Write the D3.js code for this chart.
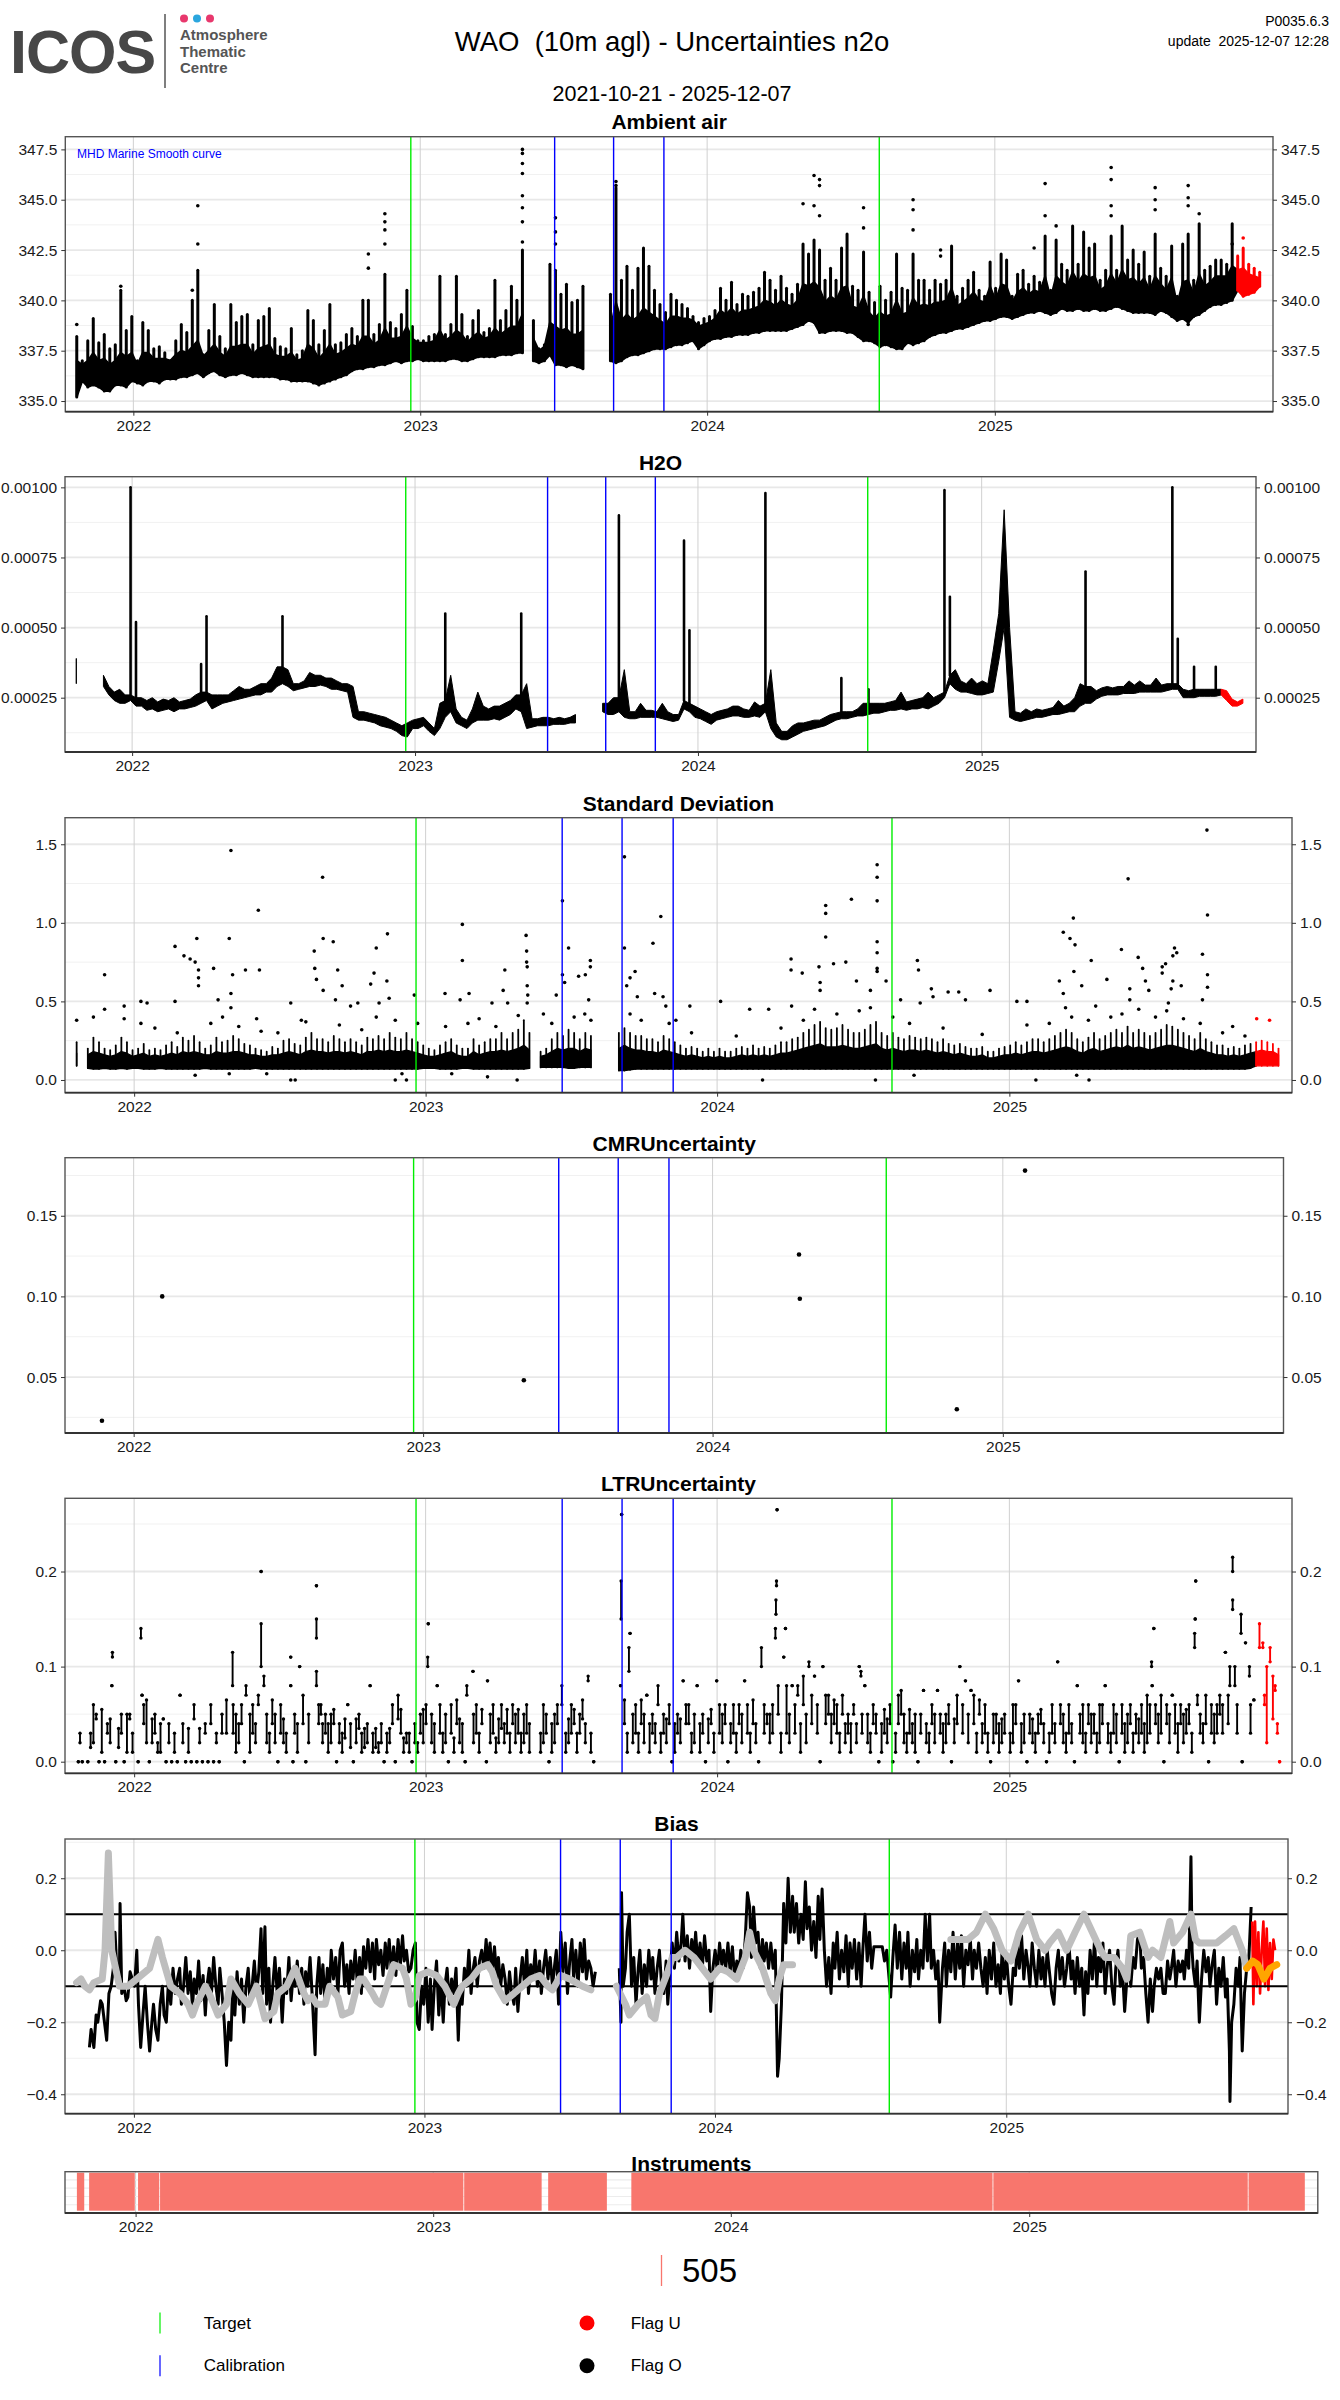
<!DOCTYPE html>
<html>
<head>
<meta charset="utf-8">
<script src="https://cdn.jsdelivr.net/npm/d3@7"></script>
<style>
  body { margin: 0; background: #fff; }
  svg { display: block; }
  text { font-family: "Liberation Sans", Arial, sans-serif; }
</style>
</head>
<body>
<div id="chart"></div>
<script>
// ---- dates shared by all panels ----
const firstDay = "2021-10-21";          // week 0 of the weekly series
const flagUStart = "2025-11-06";        // from here on values are flag U (red)
const xLimits = ["2021-10-06 10:00", "2025-12-20 22:00"];
const yearTicks = ["2022-01-01", "2023-01-01", "2024-01-01", "2025-01-01"];
const targetDates = ["2022-12-20", "2024-08-07"];
const calibrationDates = ["2023-06-21", "2023-09-04", "2023-11-07"];

// ---- Ambient air (weekly low / dense top / highest streak, n2o ppb) ----
const ambTicks = [335, 337.5, 340, 342.5, 345, 347.5];
const ambLo = [
  335.2,336.0,335.7,335.8,335.7,335.5,335.5,335.8,335.8,335.7,
  336.0,335.9,335.8,336.0,336.0,335.9,336.1,336.1,336.1,336.2,
  336.2,336.3,336.4,336.2,336.4,336.5,336.3,336.2,336.3,336.3,
  336.4,336.3,336.2,336.2,336.2,336.2,336.2,336.1,336.1,336.0,
  336.0,336.0,336.0,335.9,335.8,335.9,336.0,336.1,336.2,336.3,
  336.5,336.6,336.6,336.7,336.7,336.8,336.8,336.9,337.0,336.9,
  337.0,337.0,337.1,337.0,337.0,337.0,337.0,337.0,337.1,337.1,
  337.0,337.0,337.1,337.2,337.2,337.2,337.2,337.3,337.3,337.3,
  337.4,337.4,null,337.0,336.9,337.0,337.3,336.8,336.8,336.7,
  336.8,336.7,336.6,null,null,null,null,337.0,336.9,337.0,
  337.2,337.3,337.3,337.4,337.5,337.6,337.6,337.6,337.7,337.8,
  337.8,337.9,338.0,337.6,337.8,338.0,338.1,338.1,338.2,338.2,
  338.3,338.3,338.3,338.4,338.4,338.5,338.5,338.5,338.5,338.5,
  338.6,338.7,338.8,339.0,338.9,338.4,338.4,338.5,338.5,338.5,
  338.4,338.4,338.2,338.0,338.0,337.9,337.7,337.8,337.7,337.6,
  337.6,337.9,337.8,337.9,338.0,338.2,338.3,338.4,338.4,338.5,
  338.6,338.6,338.7,338.8,338.9,339.0,339.0,339.1,339.2,339.2,
  339.1,339.2,339.3,339.4,339.4,339.5,339.4,339.3,339.4,339.6,
  339.5,339.5,339.6,339.5,339.5,339.6,339.5,339.5,339.6,339.7,
  339.6,339.5,339.4,339.4,339.4,339.4,339.3,339.5,339.4,339.2,
  339.0,339.1,338.9,339.2,339.3,339.5,339.7,339.8,339.8,339.9,
  340.0,340.5,340.2,340.3,340.4,340.7
];
const ambCore = [
  337.0,336.8,337.0,337.4,337.0,337.1,336.8,337.0,337.4,337.2,
  337.4,336.8,337.4,337.4,337.1,337.1,337.1,337.0,337.3,337.5,
  337.4,337.7,338.0,337.2,337.5,337.8,337.4,337.2,337.7,337.7,
  337.8,337.8,337.3,337.6,337.7,337.8,337.3,337.2,337.2,337.4,
  337.0,337.1,337.8,337.6,337.1,337.4,337.8,337.3,337.4,337.6,
  337.8,337.7,338.2,338.2,337.8,338.0,338.6,338.1,338.1,338.2,
  338.7,338.1,337.9,337.9,337.9,338.0,338.5,338.0,338.2,338.5,
  338.3,337.9,338.2,338.4,338.1,338.2,338.6,338.3,338.5,338.7,
  338.7,339.3,null,338.1,337.5,337.7,338.9,338.7,338.5,338.6,
  338.3,338.3,338.5,null,null,null,null,338.6,339.9,339.0,
  339.3,339.0,339.2,339.6,339.4,339.2,339.0,338.8,339.2,339.2,
  339.1,339.1,339.0,338.7,338.8,338.9,339.1,339.5,339.3,339.6,
  339.3,339.5,339.5,339.6,339.7,340.0,339.9,339.7,340.0,339.8,
  339.7,340.0,340.8,340.7,340.9,340.6,339.9,340.2,340.0,340.6,
  340.7,339.7,339.6,340.2,339.4,339.1,339.4,339.2,339.3,340.0,
  339.3,339.4,340.1,339.7,339.8,339.7,339.9,339.9,340.0,340.6,
  339.7,339.9,340.1,340.4,340.0,339.9,340.7,340.0,340.8,340.7,
  339.9,340.4,340.6,340.3,340.5,340.4,341.2,340.1,341.2,340.9,
  340.7,341.4,340.9,341.3,341.1,341.2,340.5,340.7,341.3,340.8,
  341.5,341.0,341.1,340.8,341.1,340.5,341.2,340.8,340.5,341.1,
  339.8,340.9,341.0,340.3,341.3,340.7,340.9,341.2,341.2,341.2,
  341.7,341.5,341.6,341.3,341.2,341.1
];
const ambHi = [
  338.2,337.0,338.0,339.1,337.9,338.3,337.6,337.8,340.5,338.5,
  339.2,337.0,338.9,338.5,337.6,337.7,337.4,337.0,338.0,338.8,
  338.4,340.0,341.5,337.3,338.5,339.8,338.2,337.6,339.8,338.9,
  339.2,339.3,337.8,339.0,339.2,339.6,338.1,337.7,337.6,338.6,
  337.3,337.5,339.5,339.0,337.8,338.5,339.8,337.8,337.9,338.3,
  338.6,338.2,340.0,340.0,338.3,338.8,341.3,338.9,338.6,339.3,
  340.5,338.7,338.0,338.0,338.2,338.3,341.2,338.3,338.8,341.2,
  339.3,338.2,339.0,339.5,338.4,338.6,341.0,339.0,339.5,340.7,
  340.0,342.5,null,339.0,337.6,337.8,341.8,341.5,340.3,340.8,
  339.9,340.0,340.7,null,null,null,null,340.3,345.6,341.0,
  341.7,340.5,341.6,342.6,341.7,340.5,339.8,339.4,340.3,340.0,
  339.8,339.6,339.2,338.9,339.1,339.2,339.5,340.6,340.0,340.9,
  339.8,340.3,340.2,340.4,340.6,341.4,341.0,340.5,341.2,340.6,
  340.3,340.8,342.8,342.3,343.0,342.5,341.0,341.6,341.0,342.6,
  343.3,340.7,340.5,342.4,340.4,339.9,340.7,340.0,340.4,342.3,
  340.6,340.5,342.3,341.0,341.0,340.5,341.0,340.8,341.0,342.7,
  340.2,340.6,341.0,341.4,340.5,340.2,341.9,340.6,342.3,342.0,
  340.2,341.3,341.5,340.8,341.2,340.9,343.2,340.5,343.0,341.8,
  341.5,343.7,341.8,343.4,342.6,342.8,341.0,341.5,343.2,341.5,
  343.7,342.0,342.5,341.8,342.4,341.2,343.3,341.6,341.2,342.7,
  340.2,342.8,343.3,341.0,343.8,341.5,341.7,342.0,342.0,341.8,
  343.8,342.2,342.6,341.8,341.6,341.4
];
// isolated points above the cloud: [week, value]
const ambSpikes = [
  [0,338.8],[8,340.7],[21,340.5],[22,342.8],[22,344.7],[53,341.6],[53,342.3],
  [56,342.8],[56,343.5],[56,343.9],[56,344.3],[81,342.9],[81,343.9],[81,344.6],
  [81,345.2],[81,346.3],[81,346.8],[81,347.3],[81,347.5],[87,342.8],[87,343.4],
  [87,344.1],[98,345.7],[98,345.9],[132,344.8],[134,344.7],[134,346.2],[135,344.2],
  [135,345.7],[135,346.0],[143,343.6],[143,344.6],[152,343.5],[152,344.5],[152,345.0],
  [157,342.2],[157,342.5],[174,342.6],[176,344.2],[176,345.8],[178,343.7],[188,344.2],
  [188,344.7],[188,346.0],[188,346.6],[196,344.5],[196,345.0],[196,345.6],[202,338.8],
  [202,344.7],[202,345.1],[202,345.7],[204,344.3],[210,342.8],[212,343.1]
];

// ---- H2O (weekly low / high, in units of 1e-4) ----
const h2oTicks = [2.5, 5, 7.5, 10];
const h2oLo = [
  3.0,null,null,null,null,2.9,2.6,2.4,2.3,2.3,
  2.4,2.2,2.2,2.05,2.1,2.0,2.05,2.1,2.0,2.1,
  2.1,2.15,2.2,2.3,2.4,2.1,2.2,2.3,2.35,2.4,
  2.45,2.5,2.55,2.6,2.6,2.7,2.7,2.9,3.0,2.9,
  2.75,2.8,2.85,2.9,2.9,2.95,2.9,2.8,2.8,2.75,
  2.7,1.8,1.7,1.7,1.65,1.6,1.5,1.45,1.4,1.3,
  1.15,1.1,1.4,1.4,1.5,1.3,1.15,1.4,1.8,2.0,
  1.6,1.5,1.4,1.6,1.7,1.7,1.7,1.75,1.7,1.8,
  1.9,2.1,2.0,1.4,1.45,1.5,1.5,1.5,1.55,1.55,
  1.55,1.6,1.6,null,null,null,null,2.0,1.9,1.9,
  2.0,1.8,1.75,1.75,1.8,1.8,1.8,1.8,1.75,1.7,
  1.65,1.7,2.1,2.0,1.8,1.75,1.65,1.55,1.7,1.75,
  1.8,1.85,1.85,1.8,1.8,1.85,1.8,2.0,1.4,1.1,
  1.0,1.0,1.1,1.2,1.3,1.35,1.4,1.45,1.5,1.6,
  1.7,1.75,1.75,1.8,1.85,1.85,1.9,1.95,1.95,2.0,
  2.05,2.05,2.1,2.05,2.1,2.1,2.15,2.1,2.2,2.3,
  2.5,3.0,2.8,2.7,2.7,2.65,2.6,2.6,2.65,2.7,
  3.8,5.0,1.8,1.7,1.65,1.7,1.75,1.8,1.8,1.85,
  1.9,1.9,1.95,2.0,2.0,2.2,2.3,2.3,2.45,2.55,
  2.6,2.6,2.6,2.65,2.65,2.65,2.7,2.7,2.7,2.7,
  2.7,2.75,2.8,2.8,2.5,2.5,2.5,2.55,2.55,2.55,
  2.55,2.6,2.4,2.2,2.2,2.3
];
const h2oHi = [
  3.9,null,null,null,null,3.3,2.9,2.7,2.8,2.6,
  2.6,2.5,2.5,2.4,2.5,2.35,2.45,2.4,2.5,2.35,
  2.4,2.45,2.6,2.7,2.7,2.6,2.6,2.6,2.6,2.75,
  2.9,2.8,2.8,2.9,3.0,3.0,3.2,3.6,3.6,3.5,
  3.0,3.0,3.1,3.4,3.3,3.3,3.2,3.2,3.1,3.0,
  3.0,2.9,2.0,2.0,1.95,1.9,1.85,1.8,1.7,1.6,
  1.5,1.6,1.7,1.75,1.8,1.6,1.4,2.3,2.4,3.3,
  2.1,1.8,1.7,2.1,2.7,2.2,2.1,2.2,2.2,2.3,
  2.4,2.6,2.6,3.0,1.75,1.75,1.8,1.8,1.75,1.8,
  1.75,1.8,1.9,null,null,null,null,2.3,2.3,2.5,
  2.5,3.5,2.0,2.0,2.3,2.05,2.05,2.0,2.3,2.0,
  1.9,1.9,2.4,2.3,2.2,2.1,2.0,1.9,2.0,2.05,
  2.1,2.2,2.2,2.1,2.05,2.35,2.2,2.3,3.5,1.6,
  1.3,1.3,1.5,1.6,1.6,1.65,1.7,1.7,1.8,1.9,
  1.95,2.0,2.0,2.0,2.1,2.3,2.3,2.3,2.3,2.3,
  2.35,2.4,2.7,2.35,2.4,2.45,2.5,2.7,2.5,2.6,
  2.7,3.3,3.5,3.1,3.0,3.2,3.0,3.1,3.0,4.2,
  5.5,9.2,5.0,2.0,1.95,2.1,2.0,2.1,2.05,2.1,
  2.15,2.4,2.2,2.3,2.5,3.0,2.9,2.9,2.75,2.85,
  2.9,2.85,2.9,2.9,3.1,2.95,3.1,2.95,2.95,3.2,
  2.95,3.0,3.0,3.0,2.8,2.75,2.8,2.8,2.8,2.8,
  2.8,2.8,2.75,2.45,2.35,2.45
];
// short humid episodes: [week, from, to]
const h2oSpikes = [
  [10,2.6,10.0],[11,2.5,5.2],[23,2.7,3.7],[24,2.7,5.4],[38,3.6,5.4],[68,2.4,5.5],[82,2.6,5.5],
  [100,2.5,9.0],[112,2.4,8.1],[113,2.3,4.9],[127,2.3,9.8],[141,2.0,3.2],[146,2.3,2.8],
  [160,2.7,9.9],[161,3.3,6.1],[186,2.9,7.0],[202,3.0,10.0],[203,3.0,4.6],[206,2.8,3.6],[210,2.8,3.6]
];

// ---- Standard deviation (weekly low / dense top / highest streak) ----
const sdTicks = [0, 0.5, 1.0, 1.5];
const sdLo = [
  0.09,null,0.075,0.07,0.07,0.075,0.07,0.07,0.075,0.07,
  0.075,0.075,0.07,0.07,0.07,0.075,0.07,0.07,0.07,0.07,
  0.07,0.07,0.07,0.075,0.07,0.07,0.07,0.07,0.07,0.07,
  0.07,0.07,0.075,0.07,0.07,0.07,0.07,0.07,0.07,0.07,
  0.07,0.07,0.07,0.07,0.07,0.07,0.07,0.07,0.07,0.07,
  0.07,0.07,0.07,0.07,0.07,0.07,0.07,0.07,0.07,0.07,
  0.07,0.07,0.075,0.075,0.075,0.07,0.07,0.07,0.07,0.075,
  0.075,0.07,0.07,0.07,0.07,0.07,0.07,0.07,0.07,0.07,
  0.07,0.075,null,0.08,0.08,0.08,0.08,0.08,0.075,0.075,
  0.08,0.08,0.08,null,null,null,null,0.06,0.06,0.065,
  0.07,0.07,0.07,0.07,0.07,0.07,0.07,0.07,0.07,0.07,
  0.07,0.07,0.07,0.07,0.07,0.07,0.07,0.07,0.07,0.07,
  0.07,0.07,0.07,0.07,0.07,0.07,0.07,0.07,0.07,0.07,
  0.07,0.07,0.07,0.07,0.07,0.07,0.07,0.07,0.07,0.07,
  0.07,0.07,0.07,0.07,0.07,0.07,0.07,0.07,0.07,0.07,
  0.07,0.07,0.07,0.07,0.07,0.07,0.07,0.07,0.07,0.07,
  0.07,0.07,0.07,0.07,0.07,0.07,0.07,0.07,0.07,0.07,
  0.07,0.07,0.07,0.07,0.07,0.07,0.07,0.07,0.07,0.07,
  0.07,0.07,0.07,0.07,0.07,0.07,0.07,0.07,0.07,0.07,
  0.07,0.07,0.07,0.07,0.07,0.07,0.07,0.07,0.07,0.07,
  0.07,0.07,0.07,0.07,0.07,0.07,0.07,0.07,0.07,0.07,
  0.075,0.09,0.09,0.09,0.09,0.09
];
const sdCore = [
  0.17,null,0.16,0.18,0.17,0.16,0.15,0.16,0.18,0.17,
  0.15,0.16,0.17,0.15,0.16,0.15,0.16,0.17,0.16,0.18,
  0.17,0.18,0.17,0.16,0.16,0.18,0.17,0.17,0.18,0.18,
  0.17,0.16,0.16,0.15,0.15,0.16,0.16,0.17,0.18,0.17,
  0.16,0.18,0.19,0.18,0.18,0.17,0.18,0.18,0.17,0.18,
  0.17,0.16,0.18,0.18,0.19,0.18,0.19,0.18,0.18,0.19,
  0.18,0.17,0.16,0.15,0.15,0.16,0.17,0.18,0.16,0.15,
  0.15,0.18,0.16,0.17,0.18,0.18,0.19,0.18,0.19,0.2,
  0.22,0.19,null,0.15,0.16,0.18,0.2,0.19,0.2,0.2,
  0.18,0.2,0.19,null,null,null,null,0.2,0.22,0.2,
  0.19,0.19,0.18,0.18,0.17,0.19,0.18,0.17,0.16,0.15,
  0.16,0.15,0.14,0.15,0.14,0.15,0.14,0.14,0.15,0.16,
  0.15,0.16,0.15,0.16,0.15,0.16,0.17,0.17,0.18,0.19,
  0.2,0.21,0.22,0.23,0.21,0.21,0.21,0.22,0.21,0.2,
  0.2,0.21,0.22,0.23,0.2,0.19,0.2,0.19,0.18,0.19,
  0.19,0.18,0.19,0.18,0.17,0.18,0.17,0.16,0.17,0.16,
  0.15,0.15,0.16,0.14,0.14,0.15,0.16,0.16,0.17,0.16,
  0.17,0.18,0.18,0.17,0.18,0.19,0.2,0.21,0.2,0.18,
  0.17,0.19,0.2,0.18,0.19,0.2,0.21,0.2,0.22,0.2,
  0.21,0.2,0.19,0.2,0.21,0.22,0.22,0.21,0.2,0.19,
  0.18,0.2,0.18,0.17,0.16,0.16,0.15,0.16,0.15,0.16,
  0.17,0.18,0.19,0.18,0.18,0.16
];
const sdHi = [
  0.24,null,0.2,0.27,0.24,0.2,0.19,0.22,0.27,0.24,
  0.19,0.2,0.23,0.19,0.2,0.19,0.22,0.24,0.21,0.27,
  0.25,0.28,0.24,0.2,0.22,0.27,0.24,0.25,0.28,0.26,
  0.23,0.22,0.2,0.19,0.18,0.21,0.2,0.25,0.26,0.23,
  0.22,0.27,0.3,0.26,0.26,0.24,0.28,0.26,0.24,0.26,
  0.24,0.22,0.27,0.26,0.28,0.26,0.3,0.27,0.26,0.3,
  0.26,0.24,0.22,0.2,0.19,0.22,0.24,0.26,0.22,0.2,
  0.2,0.26,0.22,0.24,0.26,0.26,0.3,0.26,0.3,0.32,
  0.38,0.3,null,0.18,0.2,0.26,0.3,0.28,0.32,0.3,
  0.26,0.3,0.28,null,null,null,null,0.3,0.33,0.3,
  0.28,0.28,0.26,0.26,0.24,0.28,0.26,0.24,0.22,0.2,
  0.21,0.2,0.18,0.2,0.18,0.2,0.18,0.18,0.2,0.21,
  0.2,0.22,0.2,0.21,0.2,0.22,0.24,0.24,0.26,0.27,
  0.3,0.32,0.35,0.37,0.33,0.32,0.33,0.35,0.32,0.3,
  0.3,0.32,0.35,0.37,0.3,0.28,0.3,0.27,0.26,0.28,
  0.27,0.26,0.27,0.26,0.24,0.26,0.23,0.22,0.23,0.21,
  0.2,0.2,0.21,0.18,0.18,0.2,0.21,0.22,0.24,0.22,
  0.24,0.26,0.26,0.24,0.26,0.28,0.3,0.32,0.3,0.26,
  0.24,0.27,0.3,0.26,0.28,0.3,0.32,0.3,0.34,0.3,
  0.32,0.3,0.28,0.3,0.32,0.35,0.34,0.32,0.3,0.28,
  0.26,0.3,0.26,0.24,0.22,0.22,0.2,0.21,0.2,0.22,
  0.23,0.24,0.25,0.24,0.23,0.2
];
// scattered standard deviations outside the dense band: [week, value]
const sdPoints = [
  [0,0.38],[3,0.4],[5,0.45],[5,0.67],[8.5,0.47],[8.5,0.39],[11.5,0.5],[11.5,0.36],[12.6,0.49],
  [14,0.33],[17.6,0.85],[17.6,0.5],[18,0.3],[19.2,0.79],[20.3,0.77],[21.2,0.75],[21.2,0.03],
  [21.5,0.9],[21.8,0.7],[21.8,0.65],[21.8,0.6],[24,0.36],[24.5,0.71],[25.3,0.51],[26.1,0.4],
  [27.3,0.9],[27.3,0.04],[27.6,1.46],[27.6,0.55],[27.6,0.46],[27.9,0.67],[29,0.34],[30.2,0.7],
  [32.2,0.39],[32.5,1.08],[32.7,0.7],[33,0.31],[34,0.04],[36,0.3],[38.3,0.49],[38.3,0],[39.1,0],
  [40.2,0.38],[41,0.37],[42.5,0.82],[42.6,0.71],[42.9,0.64],[44,1.29],[44.1,0.9],[44.1,0.57],
  [45.9,0.88],[46.3,0.51],[46.7,0.7],[47,0.35],[47.5,0.6],[49,0.47],[50.3,0.49],[51,0.32],
  [52.6,0.61],[53.2,0.68],[53.6,0.84],[53.6,0.4],[54.1,0.49],[55.5,0.63],[55.6,0.93],[55.9,0.52],
  [57,0],[57,0.38],[58.2,0.04],[59,0],[60.4,0.54],[61,0.36],[65.9,0.55],[66,0.34],[67.1,0.04],
  [68.6,0.51],[69,0.99],[69,0.76],[70,0.36],[70.2,0.55],[72,0.39],[73.5,0.02],[74.3,0.49],
  [75,0.34],[76.3,0.57],[76.6,0.7],[77.1,0.49],[78.8,0],[79,0.41],[80.4,0.92],[80.5,0.82],
  [80.5,0.75],[80.6,0.72],[80.6,0.6],[80.7,0.54],[80.6,0.49],[83.5,0.42],[85,0.36],[85.8,0.54],
  [86.9,1.14],[86.9,0.67],[87.3,0.62],[88,0.84],[89,0.4],[89.8,0.66],[90.9,0.42],[91,0.67],
  [91.6,0.51],[91.9,0.76],[91.9,0.72],[92,0.38],[98,1.42],[98,0.84],[98.4,0.6],[99,0.65],
  [99,0.42],[99.9,0.69],[100.3,0.53],[101,0.38],[103.1,0.87],[103.4,0.55],[104.5,1.04],
  [104.9,0.53],[105.4,0.47],[106,0.36],[107.2,0.38],[109.7,0.47],[110,0.3],[115.2,0.5],
  [118,0.28],[120.4,0.45],[122.7,0],[123.8,0.45],[126,0.33],[127.8,0.77],[127.8,0.7],
  [127.9,0.47],[129.8,0.68],[130,0.38],[132,0.45],[132.8,0.72],[133,0.62],[133,0.57],
  [134,1.11],[134,1.06],[134,0.91],[135.4,0.74],[136,0.42],[137.6,0.75],[138.6,1.15],
  [139.5,0.63],[140,0.44],[142,0.57],[142,0.46],[142.9,0],[143.2,1.37],[143.2,1.29],
  [143.2,1.14],[143.2,0.88],[143.2,0.81],[143.2,0.71],[143.2,0.69],[144.8,0.63],[146,0.4],
  [147.4,0.51],[149,0.36],[149.8,0.03],[150.4,0.76],[150.6,0.7],[150.9,0.49],[152.9,0.58],
  [153.2,0.53],[155,0.33],[155.9,0.56],[157.8,0.56],[159,0.51],[162,0.29],[163.4,0.57],
  [168.2,0.5],[170,0.5],[170,0.35],[171.6,0],[174,0.36],[175.8,0.63],[176.5,0.94],[176.5,0.55],
  [176.9,0.46],[177.7,0.9],[178,0.4],[178.3,1.03],[178.4,0.69],[178.6,0.86],[178.9,0.03],
  [179.8,0.6],[181,0.38],[181.1,0],[181.5,0.76],[182.3,0.47],[184.3,0.64],[185,0.4],
  [186.9,0.83],[187,0.42],[188.1,1.28],[188.4,0.58],[188.4,0.51],[189.9,0.78],[190,0.45],
  [190.7,0.71],[191.2,0.63],[191.8,0.57],[193,0.4],[194.2,0.72],[194.2,0.68],[194.8,0.74],
  [195,0.44],[195.3,0.49],[195.8,0.58],[196.1,0.79],[196.1,0.63],[196.4,0.84],[196.8,0.81],
  [197.6,0.6],[198,0.39],[201,0.36],[201.4,0.8],[201.4,0.51],[202.2,1.59],[202.3,1.05],
  [202.3,0.67],[202.3,0.59],[205,0.3],[206.8,0.34],[209,0.28],[211.1,0.39],[213.4,0.38]
];

// ---- CMR uncertainty ----
const cmrTicks = [0.05, 0.10, 0.15];
const cmrDates = ["2021-11-22", "2022-02-06", "2023-05-08", "2024-04-19", "2024-04-20", "2024-11-04", "2025-01-29"];
const cmrValues = [0.0229, 0.100, 0.048, 0.126, 0.0985, 0.030, 0.178];

// ---- LTR uncertainty: short runs of consecutive values [week, low, high] ----
const ltrTicks = [0, 0.1, 0.2];
const ltrRuns = [
  [0.3,0,0],[0.6,0.02,0.03],[1,0,0],[2,0,0],[2.5,0.015,0.03],[3,0.02,0.06],[3.5,0.045,0.05],[4,0,0],
  [4.5,0.01,0.055],[5,0,0],[5.5,0.03,0.04],[6,0.02,0.045],[6.3,0.08,0.08],[6.4,0.11,0.115],[7,0,0],
  [7.5,0.015,0.035],[8,0.03,0.05],[8.5,0,0],[9,0.01,0.05],[9.5,0.045,0.05],[10,0.01,0.03],
  [11,0,0],[11.5,0.13,0.14],[11.7,0.07,0.07],[12,0.04,0.06],[12.5,0.02,0.065],[13,0,0],
  [13.5,0.02,0.045],[14,0.03,0.05],[14.5,0.01,0.02],[15,0.01,0.04],[15.5,0.045,0.045],[16,0,0],
  [16.5,0.02,0.04],[17,0,0],[17.5,0.01,0.03],[18,0,0],[18.5,0.07,0.07],[19,0.02,0.04],[19.5,0,0],
  [20,0.01,0.035],[20.5,0,0],[21,0.045,0.06],[21.5,0,0],[22,0.02,0.035],[22.5,0,0],[23,0.03,0.04],
  [23.5,0,0],[24,0.04,0.06],[24.5,0,0],[25,0.02,0.03],[25.5,0,0],[26,0.03,0.05],
  [26.8,0.03,0.065],[27.9,0.08,0.115],[28,0.03,0.06],[28.5,0.01,0.05],[29,0.02,0.04],[29.5,0.04,0.06],
  [30,0,0],[30.3,0.07,0.08],[31,0.01,0.05],[31.5,0.03,0.06],[32,0.02,0.04],[32.5,0.06,0.07],
  [33,0.1,0.145],[33,0.2,0.2],[33.5,0.08,0.09],[34,0.02,0.05],[34.5,0.01,0.03],[35,0.04,0.065],
  [35.5,0.02,0.05],[36,0,0],[36.5,0.03,0.06],[37,0.02,0.045],[37.5,0.01,0.03],[38.3,0.08,0.08],
  [38.3,0.11,0.11],[38.7,0,0],[39,0.03,0.05],[39.5,0.01,0.04],[39.9,0.1,0.1],[40.5,0.04,0.07],
  [41,0,0],[41.5,0.02,0.05],[42.9,0.08,0.095],[42.9,0.13,0.15],[42.9,0.185,0.185],[43.3,0.04,0.06],
  [43.7,0.05,0.06],[44,0.02,0.04],[44.5,0.03,0.05],[45,0.01,0.04],[45.5,0.02,0.05],[46,0.04,0.055],
  [46.5,0,0],[47,0.02,0.04],[47.5,0.01,0.03],[48,0.025,0.045],[48.5,0.06,0.06],[49,0.015,0.04],
  [49.5,0,0],[50,0.02,0.045],[50.5,0.035,0.05],[51,0.01,0.03],[51.5,0.015,0.035],[52,0.02,0.04],
  [52.5,0.08,0.08],[53,0.01,0.03],[53.5,0.015,0.035],[54,0.01,0.02],[54.5,0.02,0.04],[55,0,0],
  [55.5,0.01,0.03],[56,0.02,0.035],[56.5,0.04,0.06],[57,0,0],[57.5,0.045,0.07],[58,0.03,0.055],
  [58.5,0.01,0.025],[59,0.02,0.03],[59.5,0.01,0.03],[60,0,0],[60.5,0.02,0.04],[61,0.01,0.02],
  [61.5,0.03,0.05],[62,0.02,0.055],[62.5,0.04,0.06],[62.8,0.1,0.11],[62.9,0.145,0.145],
  [63.5,0.02,0.05],[64,0.01,0.04],[64.5,0.08,0.08],[65,0.03,0.06],[65.5,0.01,0.03],[66,0.02,0.05],
  [66.5,0,0],[67,0.03,0.06],[67.5,0.01,0.025],[68,0.04,0.065],[68.5,0.02,0.045],[69,0.01,0.04],
  [69.5,0,0],[69.8,0.07,0.08],[70.9,0.095,0.095],[71,0.02,0.05],[71.5,0.03,0.06],[72,0.01,0.03],
  [72.5,0.04,0.055],[73.5,0.085,0.085],[73.3,0,0],[74,0.02,0.05],[74.5,0.03,0.06],[75,0.01,0.025],
  [75.5,0.02,0.045],[76,0.035,0.06],[76.5,0.02,0.04],[77,0.03,0.055],[77.5,0.01,0.03],[78,0.04,0.06],
  [78.5,0.02,0.05],[79,0.03,0.055],[79.5,0.01,0.03],[80,0.02,0.05],[80.5,0.03,0.06],[81,0.01,0.04],
  [83,0.01,0.03],[83.5,0.02,0.06],[84,0.03,0.05],[84.5,0,0],[85,0.01,0.04],[85.5,0.02,0.05],
  [86,0.04,0.06],[86.8,0.06,0.08],[87.5,0.01,0.03],[88,0.02,0.045],[88.5,0.03,0.06],[89,0.04,0.055],
  [89.5,0.01,0.03],[90,0.03,0.05],[90.5,0.045,0.065],[91,0.02,0.04],[91.5,0.085,0.09],[92,0.01,0.03],
  [92.5,0,0],
  [97.3,0.08,0.08],[97.4,0.15,0.19],[97.5,0.26,0.26],[98,0.04,0.065],[98.5,0.01,0.03],[98.8,0.095,0.12],
  [99,0.135,0.135],[99.5,0.02,0.05],[100,0.03,0.06],[100.5,0.01,0.03],[101,0.04,0.065],[101.5,0.02,0.05],
  [102,0.07,0.07],[102.5,0.01,0.04],[103,0.03,0.05],[103.5,0.02,0.04],[104,0.06,0.08],[104.5,0.01,0.03],
  [105,0.03,0.05],[105.5,0.02,0.045],[106,0.04,0.06],[106.5,0,0],[107,0.01,0.04],[107.5,0.03,0.05],
  [108,0.02,0.045],[108.5,0.085,0.085],[109,0.04,0.06],[109.5,0.04,0.06],[110,0.01,0.03],
  [110.5,0.02,0.05],[111,0.08,0.08],[111.5,0.01,0.04],[112,0.03,0.05],[112.5,0,0],[113,0.02,0.045],
  [113.5,0.04,0.055],[114,0.01,0.03],[114.5,0.085,0.085],[115,0.03,0.06],[115.5,0.02,0.05],
  [116,0.04,0.06],[116.5,0,0],[117,0.02,0.04],[117.5,0.03,0.06],[118,0.01,0.03],[118.5,0.04,0.06],
  [119,0.02,0.05],[119.5,0.085,0.085],[120,0.03,0.06],[120.5,0.01,0.03],[121,0.04,0.065],
  [121.5,0.02,0.04],[122,0,0],[122.5,0.1,0.12],[123,0.03,0.06],[123.5,0.04,0.05],
  [124,0.02,0.05],[124.5,0.03,0.06],[125,0.13,0.14],[125.1,0.155,0.17],[125.2,0.185,0.19],
  [125.3,0.265,0.265],[125.5,0.05,0.08],[126,0.01,0.03],[126.5,0.11,0.11],[126.8,0.14,0.14],
  [127,0.03,0.08],[127.5,0.02,0.05],[128,0.08,0.08],[128.5,0.03,0.06],[129,0.07,0.08],[129.5,0.01,0.04],
  [130,0.06,0.09],[130.5,0.02,0.05],[131,0.1,0.105],[131.5,0.04,0.07],[132,0.09,0.09],[132.5,0.03,0.06],
  [133,0,0],[133.5,0.1,0.1],[134,0.04,0.07],[134.5,0.05,0.07],[135,0.02,0.05],[135.5,0.04,0.065],
  [136,0.03,0.06],[136.5,0.01,0.03],[137,0.05,0.07],[137.5,0.02,0.04],
  [138,0.03,0.05],[138.5,0.01,0.04],[139,0.05,0.06],[139.5,0.02,0.04],[140,0.1,0.1],[140.3,0.09,0.095],
  [140.5,0.03,0.05],[141,0.08,0.08],[141.5,0.02,0.05],[142,0.01,0.03],[142.5,0.04,0.06],[143,0.03,0.05],
  [143.5,0,0],[144,0.01,0.04],[144.5,0.03,0.055],[145,0.02,0.045],[145.5,0.04,0.06],[146,0,0],
  [146.5,0.01,0.03],[147,0.04,0.07],[147.5,0.05,0.075],[148,0.02,0.05],[148.5,0.01,0.03],
  [149,0.03,0.055],[149.5,0.02,0.04],[150,0.01,0.05],[150.5,0,0],[151,0.03,0.05],[151.5,0.075,0.075],
  [152,0.02,0.04],[152.5,0.01,0.03],[153,0.04,0.06],[153.5,0.02,0.05],[154,0.075,0.075],
  [154.5,0.03,0.05],[155,0.01,0.04],[155.5,0.02,0.05],[156,0.04,0.06],[156.5,0,0],[157,0.02,0.045],
  [157.5,0.04,0.07],[158,0.1,0.1],[158.5,0.03,0.06],[159,0.085,0.085],[159.5,0.02,0.05],
  [160,0.075,0.075],[160.5,0.04,0.07],[161,0.01,0.03],[161.5,0.05,0.065],[162,0.02,0.04],
  [162.5,0.03,0.06],[163,0.01,0.03],[163.5,0,0],[164,0.02,0.05],[164.5,0.03,0.05],[165,0.01,0.04],
  [165.5,0.02,0.045],[166,0.03,0.05],
  [167,0.01,0.03],[167.5,0.02,0.06],[168,0.04,0.06],[168.5,0.085,0.085],[169,0.01,0.04],
  [169.5,0.02,0.05],[170,0,0],[170.5,0.03,0.05],[171,0.02,0.045],[171.5,0.01,0.03],[172,0.03,0.05],
  [172.5,0.04,0.055],[173,0.02,0.04],[173.5,0,0],[174,0.01,0.03],[174.5,0.03,0.06],[175,0.02,0.04],
  [175.5,0.105,0.105],[176,0.04,0.06],[176.5,0.02,0.05],[177,0.01,0.03],[177.5,0.03,0.06],
  [178,0.02,0.04],[178.5,0,0],[179,0.08,0.08],[179.5,0.03,0.05],[180,0.02,0.06],[180.5,0.01,0.03],
  [181,0.04,0.06],[181.5,0.02,0.05],[182,0.03,0.05],[182.5,0.01,0.03],[183,0.02,0.06],
  [183.5,0.04,0.06],[184,0.08,0.08],[184.5,0.02,0.04],[185,0.01,0.03],[185.5,0.03,0.06],
  [186,0.02,0.05],[186.5,0,0],[187,0.03,0.06],[187.5,0.01,0.04],[188,0.02,0.05],[188.5,0.04,0.06],
  [189,0.01,0.03],[189.5,0.03,0.05],[190,0.02,0.045],[190.5,0.03,0.06],[191,0.01,0.04],
  [191.5,0.02,0.07],[192,0.03,0.06],[192.3,0.1,0.105],[192.4,0.08,0.08],[192.7,0.14,0.14],
  [193,0.04,0.06],[193.5,0.02,0.05],[194,0.03,0.07],[194.5,0,0],[195,0.04,0.06],[195.5,0.02,0.05],
  [196,0.07,0.07],[196.5,0.03,0.06],[197,0.01,0.04],[197.5,0.04,0.06],[198,0.02,0.05],
  [198.5,0.03,0.055],[199,0.04,0.06],[199.5,0.01,0.03],[200,0.12,0.135],[200.1,0.15,0.15],
  [200.2,0.19,0.19],[200.5,0.06,0.07],[201,0.03,0.05],[201.5,0.02,0.04],[202,0.04,0.07],[202.5,0,0],
  [203,0.03,0.06],[203.5,0.02,0.05],[204,0.03,0.06],[204.5,0.05,0.07],[205,0.03,0.06],
  [205.5,0.115,0.115],[206,0.04,0.07],[206.3,0.08,0.1],[206.8,0.16,0.17],[206.8,0.2,0.215],
  [207.2,0.08,0.1],[207.6,0.03,0.06],[208.3,0.135,0.155],[208.5,0,0],[209.1,0.125,0.125],
  [209.8,0.09,0.1],[210,0.03,0.06],[210.6,0.065,0.065],
  [211.6,0.12,0.145],[212.2,0.12,0.125],[212.5,0.06,0.07],[212.9,0.02,0.1],[213.5,0.105,0.12],
  [214,0.045,0.09],[214.4,0.075,0.08],[214.8,0.03,0.04],[215.2,0,0]
];

// ---- Bias: series in time order [week, value]; null marks a gap ----
const biasTicks = [-0.4, -0.2, 0, 0.2];
const biasLimits = [-0.1, 0.1];
const biasSeries = [
  [2.3,-0.27],[2.6,-0.22],[3.1,-0.27],[3.5,-0.18],[3.8,-0.2],[4.3,-0.14],[4.6,-0.15],[5.0,-0.2],[5.4,-0.25],
  [5.8,-0.12],[6.2,-0.1],[6.6,-0.05],[6.9,0.05],[7.3,-0.08],[7.7,-0.05],[7.8,0.13],[8.1,-0.12],[8.5,-0.1],
  [8.9,-0.14],[9.2,-0.13],[9.6,-0.06],[10.0,-0.08],[10.4,-0.1],[10.8,0.0],[11.1,-0.15],[11.5,-0.27],
  [11.9,-0.18],[12.3,-0.1],[12.7,-0.2],[13.1,-0.28],[13.5,-0.2],[13.8,-0.15],[14.2,-0.22],[14.6,-0.25],
  [15.0,-0.15],[15.4,-0.1],[15.7,-0.18],[16.1,-0.2],[16.5,-0.08],[16.9,-0.15],[17.3,-0.05],[17.7,-0.12],
  [18.1,-0.08],[18.5,-0.05],[18.8,-0.15],[19.2,-0.1],[19.6,-0.02],[20.0,-0.12],[20.4,-0.06],[20.8,-0.16],
  [21.1,-0.08],[21.5,-0.12],[21.9,-0.03],[22.3,-0.14],[22.7,-0.07],[23.1,-0.18],[23.4,-0.1],[23.8,-0.05],
  [24.2,-0.12],[24.6,-0.02],[25.0,-0.1],[25.4,-0.15],[25.7,-0.05],[26.1,-0.12],[26.5,-0.2],[26.9,-0.32],
  [27.3,-0.2],[27.7,-0.25],[28.0,-0.1],[28.4,-0.18],[28.8,-0.06],[29.2,-0.15],[29.6,-0.08],[30.0,-0.2],
  [30.4,-0.1],[30.8,-0.05],[31.1,-0.14],[31.5,-0.1],[31.9,-0.03],[32.3,-0.12],[32.7,-0.06],[33.1,0.06],
  [33.4,-0.12],[33.8,0.065],[34.1,-0.15],[34.5,-0.05],[34.8,-0.2],[35.2,-0.1],[35.6,-0.02],[36.0,-0.12],
  [36.4,-0.05],[36.9,-0.2],[37.3,-0.08],[37.7,-0.12],[38.1,-0.02],[38.5,-0.14],[38.9,-0.06],[39.2,-0.1],
  [39.6,-0.03],[40.0,-0.12],[40.4,-0.05],[40.8,-0.15],[41.1,-0.06],[41.5,-0.1],[41.9,-0.02],[42.3,-0.13],
  [42.8,-0.29],[43.1,-0.1],[43.5,-0.02],[43.8,-0.12],[44.2,-0.04],[44.6,-0.15],[45.0,-0.05],[45.4,-0.1],
  [45.7,0.0],[46.1,-0.08],[46.5,-0.02],[46.9,-0.12],[47.3,0.0],[47.7,0.02],[48.1,-0.1],[48.5,-0.04],
  [48.9,-0.12],[49.2,-0.03],[49.6,-0.08],[50.0,0.0],[50.4,-0.1],[50.8,-0.02],[51.1,-0.12],[51.5,0.01],
  [51.9,-0.05],[52.3,0.03],[52.7,-0.06],[53.1,0.02],[53.5,-0.08],[53.8,0.03],[54.2,-0.04],[54.6,0.0],
  [55.0,-0.07],[55.4,0.02],[55.7,-0.05],[56.1,0.03],[56.5,-0.06],[56.9,0.01],[57.3,-0.07],[57.7,0.03],
  [58.1,-0.04],[58.5,0.04],[58.8,-0.03],[59.2,0.0],[59.6,-0.06],[60.0,-0.05],[60.4,0.0],[60.8,0.02],
  [61.1,-0.2],[61.5,-0.22],[61.9,-0.1],[62.3,-0.15],[62.7,-0.05],[63.1,-0.2],[63.5,-0.08],[63.8,-0.22],
  [64.2,-0.1],[64.6,-0.03],[65.0,-0.18],[65.4,-0.08],[65.8,-0.2],[66.1,-0.1],[66.5,-0.05],[66.9,-0.15],
  [67.3,-0.08],[67.7,-0.12],[68.1,-0.05],[68.5,-0.25],[68.8,-0.12],[69.2,-0.15],[69.6,-0.05],[70.0,-0.1],
  [70.4,0.0],[70.8,-0.12],[71.1,-0.06],[71.5,-0.02],[71.9,-0.1],[72.3,-0.03],[72.7,0.0],[73.1,-0.05],
  [73.5,0.03],[73.8,-0.04],[74.2,0.02],[74.6,-0.06],[75.0,0.01],[75.4,-0.08],[75.7,-0.02],[76.1,-0.1],
  [76.5,-0.04],[76.9,-0.08],[77.3,-0.15],[77.7,-0.06],[78.1,-0.12],[78.5,-0.15],[78.8,-0.05],[79.2,-0.17],
  [79.6,-0.08],[80.0,-0.02],[80.4,-0.1],[80.8,0.0],[81.1,-0.12],[81.5,-0.04],[81.9,-0.08],[82.3,0.0],
  [82.7,-0.1],[83.1,-0.03],[83.4,-0.12],[83.8,-0.05],[84.2,0.0],[84.6,-0.08],[85.0,-0.02],[85.4,-0.1],
  [85.8,-0.04],[86.1,0.0],[86.5,-0.15],[86.9,0.05],[87.3,-0.06],[87.7,0.02],[88.1,-0.12],[88.5,-0.03],
  [88.9,0.03],[89.2,-0.08],[89.6,0.0],[90.0,-0.1],[90.4,0.02],[90.8,-0.06],[91.1,0.03],[91.5,-0.08],
  [91.9,-0.03],[92.3,-0.05],[92.7,-0.1],[93.1,-0.06],[95,null],
  [97.4,-0.05],[97.7,-0.2],[97.8,0.16],[98.1,-0.1],[98.5,-0.05],[98.8,0.05],[99.2,0.1],[99.6,-0.1],
  [100.0,-0.02],[100.4,-0.15],[100.8,-0.05],[101.1,0.0],[101.5,-0.12],[101.9,-0.04],[102.3,-0.1],
  [102.7,0.0],[103.1,-0.08],[103.4,-0.02],[103.8,-0.12],[104.2,-0.05],[104.6,0.0],[105.0,-0.1],
  [105.4,-0.12],[105.8,-0.03],[106.1,-0.15],[106.5,-0.06],[106.9,0.02],[107.3,-0.05],[107.7,0.05],
  [108.1,-0.03],[108.5,0.02],[108.8,0.1],[109.2,-0.03],[109.6,0.04],[110.0,-0.05],[110.4,0.03],
  [110.8,-0.02],[111.1,0.05],[111.5,-0.04],[111.9,0.02],[112.3,-0.05],[112.7,0.04],[113.1,-0.03],
  [113.5,0.0],[113.8,-0.17],[114.2,-0.05],[114.6,0.0],[115.0,-0.06],[115.4,0.02],[115.8,-0.04],
  [116.1,0.0],[116.5,-0.05],[116.9,0.02],[117.3,-0.06],[117.7,0.01],[118.1,-0.08],[118.5,-0.03],
  [118.8,-0.08],[119.2,0.0],[119.6,-0.05],[120.0,0.03],[120.4,0.16],[120.8,0.12],[121.1,-0.02],
  [121.5,0.12],[121.9,0.02],[122.3,0.05],[122.7,-0.05],[123.1,0.03],[123.4,-0.03],[123.8,0.02],
  [124.2,-0.05],[124.6,0.02],[125.0,-0.05],[125.4,0.0],[125.8,-0.35],[126.1,-0.3],[126.5,-0.15],
  [126.9,0.13],[127.3,0.02],[127.7,0.2],[128.1,0.05],[128.5,0.15],[128.8,0.05],[129.2,0.13],
  [129.6,0.02],[130.0,0.1],[130.4,0.03],[130.8,0.19],[131.1,0.06],[131.5,0.12],[131.9,0.0],
  [132.3,0.08],[132.7,-0.02],[133.1,0.15],[133.4,0.03],[133.8,0.17],[134.2,0.0],[134.6,-0.1],
  [135.0,-0.02],[135.4,-0.12],[135.8,0.02],[136.1,-0.05],[136.5,0.05],[136.9,-0.08],[137.3,0.0],
  [137.7,-0.06],[138.1,0.04],[138.5,-0.1],[138.8,0.02],[139.2,-0.05],[139.6,0.03],[140.0,-0.08],
  [140.4,0.02],[140.8,-0.1],[141.1,0.0],[141.5,0.1],[141.9,-0.03],[142.3,0.05],[142.7,-0.05],
  [143.1,0.01],[143.8,0.01],[144.6,0.01],[145.0,-0.03],[145.4,0.0],[146.1,-0.13],[146.5,-0.02],
  [146.9,0.07],[147.3,-0.05],[147.7,0.05],[148.1,-0.08],[148.5,0.02],[148.9,-0.05],[149.2,0.05],
  [149.6,-0.1],[150.0,0.0],[150.4,-0.06],[150.8,0.03],[151.1,-0.08],[151.5,0.0],[151.9,-0.05],
  [152.3,0.1],[152.7,-0.03],[153.1,0.1],[153.4,-0.05],[153.8,0.0],[154.2,-0.08],[154.6,-0.03],
  [154.9,-0.2],[155.4,-0.05],[155.8,0.02],[156.1,-0.1],[156.5,0.0],[156.9,-0.06],[157.3,0.05],
  [157.7,-0.08],[158.1,0.02],[158.5,-0.05],[158.8,0.04],[159.2,-0.1],[159.6,0.0],[160.0,-0.04],
  [160.4,0.03],[160.8,-0.08],[161.1,0.0],[161.5,-0.05],[161.9,0.02],[162.3,-0.05],[162.7,-0.1],
  [163.1,-0.02],[163.4,-0.12],[163.8,0.0],[164.2,-0.08],[164.6,0.02],[165.0,-0.1],[165.4,-0.04],
  [165.8,-0.12],[166.1,0.0],[166.5,-0.08],[166.9,-0.02],[167.3,-0.1],[167.7,-0.15],[168.1,-0.05],
  [168.5,-0.07],[168.8,0.02],[169.2,-0.05],[169.6,0.04],[170.0,-0.08],[170.4,0.0],[170.8,-0.05],
  [171.1,-0.1],[171.5,0.02],[171.9,-0.05],[172.3,-0.1],[172.7,0.0],[173.1,-0.08],[173.4,-0.02],
  [173.8,-0.1],[174.2,0.0],[174.6,-0.06],[175.0,-0.12],[175.4,-0.15],[175.8,-0.05],[176.2,0.0],
  [176.5,-0.08],[176.9,-0.02],[177.3,-0.1],[177.7,-0.05],[178.1,0.02],[178.5,-0.08],[178.8,-0.03],
  [179.2,-0.12],[179.6,-0.02],[180.0,-0.1],[180.4,-0.05],[180.8,-0.18],[181.1,-0.06],[181.5,-0.12],
  [181.9,0.0],[182.3,-0.08],[182.7,0.03],[183.1,-0.1],[183.4,-0.02],[183.8,-0.06],[184.2,0.02],
  [184.6,-0.12],[185.0,-0.04],[185.4,0.0],[185.8,-0.1],[186.2,-0.15],[186.5,-0.05],[186.9,0.0],
  [187.3,-0.1],[187.7,-0.05],[188.1,-0.17],[188.5,-0.08],[188.8,0.0],[189.2,-0.1],[189.6,-0.02],
  [190.0,-0.05],[190.4,0.03],[190.8,0.05],[191.1,-0.05],[191.5,-0.02],[191.9,-0.12],[192.3,-0.2],
  [192.7,-0.08],[193.1,-0.17],[193.4,-0.1],[193.8,-0.05],[194.2,-0.08],[194.6,-0.05],[195.0,-0.12],
  [195.4,-0.12],[195.8,-0.03],[196.2,-0.08],[196.5,-0.05],[196.9,0.0],[197.3,-0.1],[197.7,-0.03],
  [198.1,-0.06],[198.5,-0.03],[198.8,-0.08],[199.2,0.0],[199.6,-0.05],[200.0,0.26],[200.2,0.0],
  [200.4,-0.05],[200.8,-0.1],[201.1,-0.03],[201.5,-0.2],[201.9,-0.08],[202.3,0.0],[202.7,-0.06],
  [203.1,-0.02],[203.4,-0.1],[203.8,-0.04],[204.2,0.0],[204.6,-0.15],[205.0,-0.05],[205.4,-0.1],
  [205.8,-0.02],[206.2,-0.13],[206.5,-0.08],[206.9,-0.28],[207.0,-0.42],[207.3,-0.2],[207.7,-0.15],
  [208.1,-0.05],[208.5,-0.1],[208.8,-0.02],[209.2,-0.28],[209.6,-0.12],[210.0,-0.05],[210.4,-0.02],
  [210.8,0.12],[211.0,0.08],
  [211.2,-0.15],[211.5,0.08],[211.8,-0.1],[212.1,0.05],[212.4,-0.12],[212.7,0.0],[213.0,0.08],
  [213.3,-0.1],[213.6,0.06],[213.9,-0.11],[214.2,0.02],[214.5,-0.08],[214.8,0.03],[215.1,0.0]
];
// MHD marine smooth curve [week, value]
const biasSmooth = [
  [0,-0.09],[0.8,-0.08],[1.5,-0.1],[2.3,-0.11],[3.1,-0.09],[4.6,-0.08],[5.1,0.0],[5.7,0.27],[6.3,0.0],
  [7.7,-0.1],[9.2,-0.1],[10.8,-0.08],[13.1,-0.05],[14.6,0.03],[15.4,-0.02],[16.9,-0.1],[18.5,-0.12],
  [20.0,-0.15],[20.8,-0.18],[21.5,-0.15],[23.1,-0.1],[23.8,-0.12],[25.4,-0.18],[26.9,-0.15],[27.7,-0.08],
  [29.2,-0.12],[30.8,-0.15],[32.3,-0.1],[33.8,-0.19],[35.4,-0.17],[36.1,-0.12],[37.7,-0.1],[39.2,-0.05],
  [40.8,-0.12],[41.5,-0.14],[42.3,-0.13],[43.1,-0.15],[44.6,-0.15],[45.4,-0.1],[46.9,-0.13],[47.7,-0.18],
  [49.2,-0.17],[50.0,-0.12],[50.8,-0.08],[51.5,-0.08],[53.1,-0.12],[53.8,-0.14],[54.6,-0.15],[56.1,-0.08],
  [56.9,-0.04],[58.5,-0.05],[59.2,-0.08],[60.0,-0.15],[60.8,-0.13],[61.5,-0.07],[63.1,-0.06],[64.6,-0.07],
  [66.1,-0.1],[67.7,-0.15],[68.5,-0.12],[69.2,-0.1],[70.8,-0.08],[72.3,-0.05],[73.8,-0.04],[74.6,-0.06],
  [75.4,-0.1],[76.9,-0.14],[78.5,-0.12],[80.0,-0.1],[81.5,-0.08],[83.1,-0.07],[84.6,-0.1],[85.4,-0.11],
  [86.9,-0.07],[88.5,-0.08],[90.8,-0.1],[92.3,-0.11],[94.5,null],
  [96.9,-0.1],[98.5,-0.15],[99.2,-0.18],[100.8,-0.15],[102.3,-0.13],[103.1,-0.18],[103.8,-0.19],
  [104.6,-0.12],[106.1,-0.06],[106.9,-0.02],[107.7,-0.02],[109.2,0.0],[110.8,-0.02],[112.3,-0.05],
  [113.8,-0.08],[115.4,-0.05],[116.9,-0.06],[118.5,-0.08],[120.0,-0.02],[120.8,0.05],[121.5,0.0],
  [123.1,-0.05],[124.6,-0.12],[125.4,-0.14],[126.1,-0.08],[126.9,-0.04],[128.5,-0.04],[140,null],
  [156.9,0.03],[160.0,0.03],[161.5,0.05],[163.1,0.1],[164.6,0.06],[166.1,0.0],[167.7,-0.03],[169.2,0.05],
  [170.8,0.1],[172.3,0.03],[173.8,0.0],[174.6,0.02],[176.2,0.05],[177.7,0.0],[179.2,0.05],[180.8,0.1],
  [182.3,0.05],[183.8,0.0],[184.6,-0.02],[186.2,-0.02],[187.7,-0.05],[188.5,-0.08],[189.2,0.04],
  [190.8,0.05],[192.3,-0.02],[193.1,0.0],[194.6,-0.02],[196.2,0.08],[196.9,0.02],[198.5,0.05],
  [200.0,0.1],[200.8,0.03],[201.5,0.02],[203.1,0.02],[204.6,0.02],[206.2,0.04],[207.7,0.06],
  [209.2,0.0],[210.0,-0.05]
];
const biasSmoothFlagged = [[210.0,-0.05],[211.1,-0.03],[212.0,-0.04],[213.1,-0.08],[214.2,-0.05],[215.4,-0.04]];

// ---- Instruments ----
const instrumentId = "505";
const instrumentPeriods = [
  ["2021-10-21","2021-10-30"],["2021-11-05","2021-12-31"],["2022-01-04","2022-01-30"],
  ["2022-01-31","2023-02-07"],["2023-02-08","2023-05-14"],["2023-05-22","2023-08-02"],
  ["2023-09-01","2024-11-17"],["2024-11-18","2025-09-26"],["2025-09-27","2025-12-05"]
];

// =================================================================
const W = 1340, H = 2400;
const FONT = "'Liberation Sans', Arial, sans-serif";
const svg = d3.select("#chart").append("svg").attr("width", W).attr("height", H);
svg.append("rect").attr("width", W).attr("height", H).attr("fill", "#fff");
const defs = svg.append("defs");

const parseDay = d3.timeParse("%Y-%m-%d");
const parseTime = d3.timeParse("%Y-%m-%d %H:%M");
const week0 = parseDay(firstDay);
const wk = i => new Date(week0.getTime() + i * 7 * 864e5);
const flagDate = parseDay(flagUStart);
const xDomain = xLimits.map(parseTime);
const years = yearTicks.map(parseDay);
const isFlag = t => t >= flagDate;
const colorOf = t => isFlag(t) ? "#ff0000" : "#000";

// ---- header ----
const logo = svg.append("g");
logo.append("text").attr("x", 10).attr("y", 73).attr("font-size", 61).attr("font-weight", "bold")
  .attr("letter-spacing", -1).attr("fill", "#474747").attr("font-family", FONT).text("ICOS");
logo.append("line").attr("x1", 165).attr("x2", 165).attr("y1", 14).attr("y2", 88)
  .attr("stroke", "#555").attr("stroke-width", 1.5);
[["#e8386d", 184], ["#2ba6de", 197], ["#e8386d", 210]].forEach(([c, cx]) =>
  logo.append("circle").attr("cx", cx).attr("cy", 18.5).attr("r", 4).attr("fill", c));
["Atmosphere", "Thematic", "Centre"].forEach((t, k) =>
  logo.append("text").attr("x", 180).attr("y", 40 + k * 16.5).attr("font-size", 15)
    .attr("font-weight", "bold").attr("fill", "#555").attr("font-family", FONT).text(t));

svg.append("text").attr("x", 672).attr("y", 41).attr("text-anchor", "middle").attr("dominant-baseline", "central")
  .attr("font-size", 27.5).attr("font-family", FONT).style("white-space", "pre")
  .text("WAO  (10m agl) - Uncertainties n2o");
svg.append("text").attr("x", 672).attr("y", 93.5).attr("text-anchor", "middle").attr("dominant-baseline", "central")
  .attr("font-size", 21.5).attr("font-family", FONT).text("2021-10-21 - 2025-12-07");
svg.append("text").attr("x", 1329).attr("y", 21).attr("text-anchor", "end").attr("dominant-baseline", "central")
  .attr("font-size", 14).attr("font-family", FONT).text("P0035.6.3");
svg.append("text").attr("x", 1329).attr("y", 41).attr("text-anchor", "end").attr("dominant-baseline", "central")
  .attr("font-size", 14).attr("font-family", FONT).style("white-space", "pre").text("update  2025-12-07 12:28");

// ---- panel helpers ----
let clipN = 0;
function makePanel(c) {
  const x = d3.scaleTime().domain(xDomain).range([c.left, c.right]);
  const y = c.yDomain ? d3.scaleLinear().domain(c.yDomain).range([c.bottom, c.top]) : null;
  const g = svg.append("g");
  g.append("rect").attr("x", c.left).attr("y", c.top).attr("width", c.right - c.left)
    .attr("height", c.bottom - c.top).attr("fill", "#fff");
  if (y) {
    const step = c.ticks[1] - c.ticks[0];
    const minors = [];
    c.ticks.forEach(t => [t - step / 2, t + step / 2].forEach(m => {
      if (m > c.yDomain[0] && m < c.yDomain[1] && !minors.some(v => Math.abs(v - m) < 1e-9)) minors.push(m);
    }));
    g.selectAll(null).data(minors).join("line")
      .attr("x1", c.left).attr("x2", c.right).attr("y1", d => y(d)).attr("y2", d => y(d))
      .attr("stroke", "#f1f1f1").attr("stroke-width", 1);
    g.selectAll(null).data(c.ticks).join("line")
      .attr("x1", c.left).attr("x2", c.right).attr("y1", d => y(d)).attr("y2", d => y(d))
      .attr("stroke", "#e8e8e8").attr("stroke-width", 1.8);
  }
  g.selectAll(null).data(years).join("line")
    .attr("x1", d => x(d)).attr("x2", d => x(d)).attr("y1", c.top).attr("y2", c.bottom)
    .attr("stroke", "#d0d0d0").attr("stroke-width", 1);
  const id = "clip" + (clipN++);
  defs.append("clipPath").attr("id", id).append("rect").attr("x", c.left).attr("y", c.top)
    .attr("width", c.right - c.left).attr("height", c.bottom - c.top);
  const plot = g.append("g").attr("clip-path", `url(#${id})`);
  svg.append("text").attr("x", (c.left + c.right) / 2).attr("y", c.titleY).attr("text-anchor", "middle")
    .attr("dominant-baseline", "central").attr("font-size", 21).attr("font-weight", "bold")
    .attr("font-family", FONT).text(c.title);
  return { x, y, g, plot, c };
}

function styleAxis(sel) {
  sel.select(".domain").remove();
  sel.selectAll(".tick line").attr("stroke", "#333");
  sel.selectAll(".tick text").attr("fill", "#1a1a1a").attr("font-size", 15.5).attr("font-family", FONT);
}

function finishPanel(P, markers = true) {
  const { x, y, g, plot, c } = P;
  if (markers) {
    plot.selectAll(null).data(targetDates.map(parseDay)).join("line")
      .attr("x1", d => x(d)).attr("x2", d => x(d)).attr("y1", c.top).attr("y2", c.bottom)
      .attr("stroke", "#00ee00").attr("stroke-width", 1.4);
    plot.selectAll(null).data(calibrationDates.map(parseDay)).join("line")
      .attr("x1", d => x(d)).attr("x2", d => x(d)).attr("y1", c.top).attr("y2", c.bottom)
      .attr("stroke", "#0000ff").attr("stroke-width", 1.4);
  }
  g.append("rect").attr("x", c.left).attr("y", c.top).attr("width", c.right - c.left)
    .attr("height", c.bottom - c.top).attr("fill", "none").attr("stroke", "#555").attr("stroke-width", 1.4);
  g.append("line").attr("x1", c.left).attr("x2", c.right).attr("y1", c.bottom).attr("y2", c.bottom)
    .attr("stroke", "#333").attr("stroke-width", 1.8);
  g.append("g").attr("transform", `translate(0,${c.bottom})`)
    .call(d3.axisBottom(x).tickValues(years).tickFormat(d3.timeFormat("%Y")).tickSize(4).tickPadding(4))
    .call(styleAxis);
  if (y) {
    g.append("g").attr("transform", `translate(${c.left},0)`)
      .call(d3.axisLeft(y).tickValues(c.ticks).tickFormat(c.fmt).tickSize(4).tickPadding(4)).call(styleAxis);
    g.append("g").attr("transform", `translate(${c.right},0)`)
      .call(d3.axisRight(y).tickValues(c.ticks).tickFormat(c.fmt).tickSize(4).tickPadding(4)).call(styleAxis);
  }
}

// solid band between two weekly arrays, black before the flag date and red after it
function drawBand(P, lo, hi, strokeW) {
  const rows = lo.map((v, i) => ({ t: wk(i), lo: v, hi: hi[i] }));
  const area = d3.area().defined(d => d.lo != null && d.hi != null)
    .x(d => P.x(d.t)).y0(d => P.y(d.lo)).y1(d => P.y(d.hi));
  [[rows.filter(d => d.t <= flagDate), "#000"], [rows.filter(d => d.t >= flagDate), "#ff0000"]]
    .forEach(([data, col]) => P.plot.append("path").datum(data).attr("d", area)
      .attr("fill", col).attr("stroke", col).attr("stroke-width", strokeW).attr("stroke-linejoin", "round"));
}

// one thin streak per entry from its low to its high value
function drawStreaks(P, runs, width) {
  P.plot.selectAll(null).data(runs.filter(d => d[1] != null && d[2] != null)).join("line")
    .attr("x1", d => P.x(wk(d[0]))).attr("x2", d => P.x(wk(d[0])))
    .attr("y1", d => P.y(d[1])).attr("y2", d => P.y(d[2]))
    .attr("stroke", d => colorOf(wk(d[0]))).attr("stroke-width", width).attr("stroke-linecap", "round");
}

function drawDots(P, pts, r) {
  P.plot.selectAll(null).data(pts).join("circle")
    .attr("cx", d => P.x(wk(d[0]))).attr("cy", d => P.y(d[1])).attr("r", r)
    .attr("fill", d => colorOf(wk(d[0])));
}

// ---- 1. Ambient air ----
const pAmb = makePanel({ left: 65.3, right: 1273, top: 136.7, bottom: 411.7, yDomain: [334.47, 348.13],
  ticks: ambTicks, fmt: d3.format(".1f"), title: "Ambient air", titleY: 121.7 });
drawBand(pAmb, ambLo, ambCore, 2.0);
drawStreaks(pAmb, ambLo.map((v, i) => [i, v, ambHi[i]]), 3.0);
drawDots(pAmb, ambSpikes, 1.8);
finishPanel(pAmb);
svg.append("text").attr("x", 77).attr("y", 153.7).attr("dominant-baseline", "central")
  .attr("font-size", 12).attr("fill", "#0000ff").attr("font-family", FONT).text("MHD Marine Smooth curve");

// ---- 2. H2O ----
const pH2o = makePanel({ left: 65, right: 1256, top: 476.7, bottom: 752, yDomain: [0.564, 10.38],
  ticks: h2oTicks, fmt: d => (d / 1e4).toFixed(5), title: "H2O", titleY: 462.5 });
drawBand(pH2o, h2oLo, h2oHi, 1.0);
drawStreaks(pH2o, h2oSpikes, 2.6);
finishPanel(pH2o);

// ---- 3. Standard deviation ----
const pSd = makePanel({ left: 65, right: 1292, top: 817.7, bottom: 1092.7, yDomain: [-0.081, 1.669],
  ticks: sdTicks, fmt: d3.format(".1f"), title: "Standard Deviation", titleY: 803 });
drawBand(pSd, sdLo, sdCore, 1.4);
drawStreaks(pSd, sdLo.map((v, i) => [i, v, sdHi[i]]), 1.8);
drawDots(pSd, sdPoints, 1.8);
finishPanel(pSd);

// ---- 4. CMR uncertainty ----
const pCmr = makePanel({ left: 65, right: 1283.5, top: 1157.7, bottom: 1433, yDomain: [0.0153, 0.186],
  ticks: cmrTicks, fmt: d3.format(".2f"), title: "CMRUncertainty", titleY: 1143 });
pCmr.plot.selectAll(null).data(cmrDates.map((d, k) => [parseDay(d), cmrValues[k]])).join("circle")
  .attr("cx", d => pCmr.x(d[0])).attr("cy", d => pCmr.y(d[1])).attr("r", 2.3).attr("fill", "#000");
finishPanel(pCmr);

// ---- 5. LTR uncertainty ----
const pLtr = makePanel({ left: 65, right: 1292, top: 1498.3, bottom: 1773.3, yDomain: [-0.0122, 0.277],
  ticks: ltrTicks, fmt: d3.format(".1f"), title: "LTRUncertainty", titleY: 1483 });
drawStreaks(pLtr, ltrRuns, 1.9);
drawDots(pLtr, ltrRuns.map(d => [d[0], d[1]]), 1.7);
drawDots(pLtr, ltrRuns.map(d => [d[0], d[2]]), 1.7);
finishPanel(pLtr);

// ---- 6. Bias ----
const pBias = makePanel({ left: 65, right: 1288, top: 1839, bottom: 2113.7, yDomain: [-0.454, 0.309],
  ticks: biasTicks, fmt: d3.format(".1f"), title: "Bias", titleY: 1823.7 });
const bLine = d3.line().defined(d => d[1] != null).x(d => pBias.x(wk(d[0]))).y(d => pBias.y(d[1]));
const biasOk = biasSeries.filter(d => !isFlag(wk(d[0])));
const biasU = biasSeries.filter(d => isFlag(wk(d[0])));
pBias.plot.append("path").datum(biasOk).attr("d", bLine).attr("fill", "none").attr("stroke", "#000")
  .attr("stroke-width", 3).attr("stroke-linejoin", "round");
pBias.plot.append("path").datum(biasU).attr("d", bLine).attr("fill", "none").attr("stroke", "#ff0000")
  .attr("stroke-width", 2.6).attr("stroke-linejoin", "round");
pBias.plot.selectAll(null).data(biasLimits).join("line")
  .attr("x1", pBias.c.left).attr("x2", pBias.c.right).attr("y1", d => pBias.y(d)).attr("y2", d => pBias.y(d))
  .attr("stroke", "#000").attr("stroke-width", 2);
pBias.plot.append("path").datum(biasSmooth).attr("d", bLine).attr("fill", "none").attr("stroke", "#bebebe")
  .attr("stroke-width", 7).attr("stroke-linejoin", "round").attr("stroke-linecap", "round");
pBias.plot.append("path").datum(biasSmoothFlagged).attr("d", bLine).attr("fill", "none").attr("stroke", "#ffa500")
  .attr("stroke-width", 7).attr("stroke-linejoin", "round").attr("stroke-linecap", "round");
finishPanel(pBias);

// ---- 7. Instruments ----
const pIns = makePanel({ left: 65, right: 1317.8, top: 2171.7, bottom: 2213, title: "Instruments", titleY: 2163 });
[0.2, 0.4, 0.6, 0.8].forEach(f => pIns.g.insert("line", "g")
  .attr("x1", pIns.c.left).attr("x2", pIns.c.right)
  .attr("y1", pIns.c.top + f * (pIns.c.bottom - pIns.c.top)).attr("y2", pIns.c.top + f * (pIns.c.bottom - pIns.c.top))
  .attr("stroke", "#ececec").attr("stroke-width", 1.2));
pIns.plot.selectAll(null).data(instrumentPeriods).join("rect")
  .attr("x", d => pIns.x(parseDay(d[0]))).attr("width", d => pIns.x(parseDay(d[1])) - pIns.x(parseDay(d[0])))
  .attr("y", 2172.7).attr("height", 38).attr("fill", "#F8766D");
finishPanel(pIns, false);

// ---- legends ----
svg.append("line").attr("x1", 661.5).attr("x2", 661.5).attr("y1", 2255).attr("y2", 2286)
  .attr("stroke", "#F8766D").attr("stroke-width", 1.3);
svg.append("text").attr("x", 682).attr("y", 2270).attr("dominant-baseline", "central")
  .attr("font-size", 33).attr("font-family", FONT).text(instrumentId);

const legendRows = [
  { kind: "line", color: "#00ee00", label: "Target", x: 160, y: 2323 },
  { kind: "line", color: "#0000ff", label: "Calibration", x: 160, y: 2365.7 },
  { kind: "dot", color: "#ff0000", label: "Flag U", x: 587, y: 2323 },
  { kind: "dot", color: "#000000", label: "Flag O", x: 587, y: 2365.7 }
];
legendRows.forEach(r => {
  if (r.kind === "line") {
    svg.append("line").attr("x1", r.x).attr("x2", r.x).attr("y1", r.y - 10.5).attr("y2", r.y + 10.5)
      .attr("stroke", r.color).attr("stroke-width", 1.2);
  } else {
    svg.append("circle").attr("cx", r.x).attr("cy", r.y).attr("r", 7.5).attr("fill", r.color);
  }
  svg.append("text").attr("x", r.x + 43.7).attr("y", r.y)
    .attr("dominant-baseline", "central").attr("font-size", 17).attr("font-family", FONT).text(r.label);
});
</script>
</body>
</html>
